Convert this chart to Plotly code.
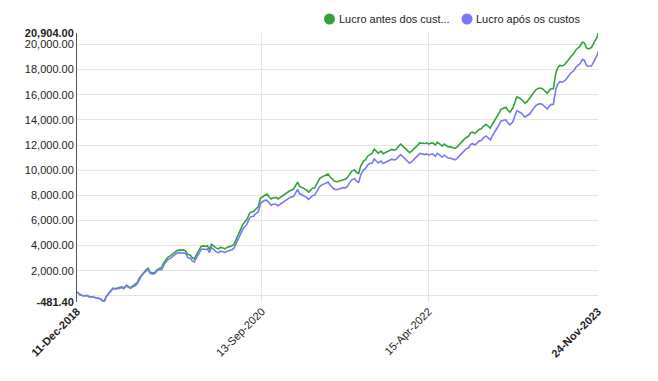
import plotly.graph_objects as go

dates = [
"2018-12-11","2018-12-15","2018-12-22",
"2019-01-01","2019-01-08","2019-01-15","2019-01-22",
"2019-02-01","2019-02-08","2019-02-15","2019-02-22",
"2019-03-01","2019-03-08","2019-03-15","2019-03-22",
"2019-04-01","2019-04-08","2019-04-15","2019-04-22",
"2019-05-01","2019-05-08","2019-05-15","2019-05-22",
"2019-06-01","2019-06-08","2019-06-15","2019-06-22",
"2019-07-01","2019-07-08","2019-07-15","2019-07-22",
"2019-08-01","2019-08-08","2019-08-15","2019-08-22",
"2019-09-01","2019-09-08","2019-09-15","2019-09-22",
"2019-10-01","2019-10-08","2019-10-15","2019-10-22",
"2019-11-01","2019-11-08","2019-11-15","2019-11-22",
"2019-12-01","2019-12-08","2019-12-15","2019-12-22",
"2020-01-01","2020-01-08","2020-01-15","2020-01-22",
"2020-02-01","2020-02-08","2020-02-15","2020-02-22",
"2020-03-01","2020-03-08","2020-03-15","2020-03-22",
"2020-04-01","2020-04-08","2020-04-15","2020-04-22",
"2020-05-01","2020-05-08","2020-05-15","2020-05-22",
"2020-06-01","2020-06-08","2020-06-15","2020-06-22",
"2020-07-01","2020-07-08","2020-07-15","2020-07-22",
"2020-08-01","2020-08-08","2020-08-15","2020-08-22",
"2020-09-01","2020-09-08","2020-09-15","2020-09-22",
"2020-10-01","2020-10-08","2020-10-15","2020-10-22",
"2020-11-01","2020-11-08","2020-11-15","2020-11-22",
"2020-12-01","2020-12-08","2020-12-15","2020-12-22",
"2021-01-01","2021-01-08","2021-01-15","2021-01-22",
"2021-02-01","2021-02-08","2021-02-15","2021-02-22",
"2021-03-01","2021-03-08","2021-03-15","2021-03-22",
"2021-04-01","2021-04-08","2021-04-15","2021-04-22",
"2021-05-01","2021-05-08","2021-05-15","2021-05-22",
"2021-06-01","2021-06-08","2021-06-15","2021-06-22",
"2021-07-01","2021-07-08","2021-07-15","2021-07-22",
"2021-08-01","2021-08-08","2021-08-15","2021-08-22",
"2021-09-01","2021-09-08","2021-09-15","2021-09-22",
"2021-10-01","2021-10-08","2021-10-15","2021-10-22",
"2021-11-01","2021-11-08","2021-11-15","2021-11-22",
"2021-12-01","2021-12-08","2021-12-15","2021-12-22",
"2022-01-01","2022-01-08","2022-01-15","2022-01-22",
"2022-02-01","2022-02-08","2022-02-15","2022-02-22",
"2022-03-01","2022-03-08","2022-03-15","2022-03-22",
"2022-04-01","2022-04-08","2022-04-15","2022-04-22",
"2022-05-01","2022-05-08","2022-05-15","2022-05-22",
"2022-06-01","2022-06-08","2022-06-15","2022-06-22",
"2022-07-01","2022-07-08","2022-07-15","2022-07-22",
"2022-08-01","2022-08-08","2022-08-15","2022-08-22",
"2022-09-01","2022-09-08","2022-09-15","2022-09-22",
"2022-10-01","2022-10-08","2022-10-15","2022-10-22",
"2022-11-01","2022-11-08","2022-11-15","2022-11-22",
"2022-12-01","2022-12-08","2022-12-15","2022-12-22",
"2023-01-01","2023-01-08","2023-01-15","2023-01-22",
"2023-02-01","2023-02-08","2023-02-15","2023-02-22",
"2023-03-01","2023-03-08","2023-03-15","2023-03-22",
"2023-04-01","2023-04-08","2023-04-15","2023-04-22",
"2023-05-01","2023-05-08","2023-05-15","2023-05-22",
"2023-06-01","2023-06-08","2023-06-15","2023-06-22",
"2023-07-01","2023-07-08","2023-07-15","2023-07-22",
"2023-08-01","2023-08-08","2023-08-15","2023-08-22",
"2023-09-01","2023-09-08","2023-09-15","2023-09-22",
"2023-10-01","2023-10-08","2023-10-15","2023-10-22",
"2023-11-01","2023-11-08","2023-11-15","2023-11-22","2023-11-24",
]

lucro_antes = [
310, 220, 100,
20, 60, 40, -60,
-60, -100, -140, -180,
-220, -340, -481.4, -60,
260, 420, 610, 570,
610, 650, 730, 630,
840, 730, 650, 770,
890, 1050, 1420, 1640,
1920, 2080, 2200, 1880,
1820, 1880, 2080, 2160,
2280, 2630, 2870, 3070,
3210, 3350, 3510, 3590,
3640, 3630, 3660, 3590,
3270, 3270, 3030, 2950,
3350, 3660, 3940, 3980,
3940, 3980, 3700, 4100,
3900, 3800, 3740, 3860,
3820, 3740, 3860, 3900,
3980, 4100, 4460, 4850,
5330, 5650, 5880, 6040,
6560, 6700, 6720, 6910,
7110, 7790, 7890, 8020,
8100, 7870, 7710, 7790,
7830, 7710, 7830, 7900,
8100, 8180, 8300, 8380,
8500, 8780, 9050, 8700,
8580, 8500, 8420, 8260,
8380, 8560, 8580, 8900,
9310, 9450, 9530, 9610,
9690, 9450, 9290, 9130,
9080, 9130, 9210, 9250,
9290, 9450, 9730, 9930,
10020, 9810, 9730, 10320,
10720, 10840, 11110, 11230,
11350, 11670, 11510, 11350,
11510, 11310, 11390, 11470,
11590, 11650, 11590, 11630,
11910, 12070, 11910, 11750,
11590, 11390, 11510, 11670,
11750, 11990, 12170, 12150,
12120, 12170, 12070, 12150,
12150, 11990, 12220, 12110,
11910, 12070, 11950, 11850,
11850, 11790, 11730, 11830,
12070, 12260, 12420, 12580,
12700, 12980, 13020, 12910,
13100, 13260, 13290, 13490,
13650, 13490, 13330, 13650,
13970, 14230, 14520, 14840,
14960, 15000, 14760, 14600,
14920, 15320, 15820, 15750,
15670, 15510, 15320, 15430,
15710, 15950, 16190, 16390,
16500, 16530, 16470, 16350,
16110, 16350, 16480, 16470,
17770, 18170, 18330, 18290,
18410, 18610, 18840, 19040,
19280, 19560, 19710, 19830,
20190, 20110, 19710, 19640,
19750, 20050, 20230, 20630, 20904,
]

lucro_apos = [
310, 220, 100,
20, 60, 40, -60,
-60, -100, -140, -180,
-220, -340, -481.4, -60,
240, 400, 590, 550,
560, 600, 680, 580,
790, 680, 600, 720,
810, 970, 1340, 1560,
1840, 2000, 2120, 1800,
1740, 1800, 2000, 2080,
2080, 2430, 2670, 2870,
3010, 3150, 3310, 3390,
3440, 3430, 3460, 3390,
3020, 3020, 2780, 2700,
3100, 3410, 3690, 3730,
3690, 3730, 3450, 3850,
3600, 3500, 3440, 3560,
3520, 3440, 3560, 3600,
3680, 3800, 4160, 4550,
4950, 5270, 5500, 5660,
6180, 6320, 6340, 6530,
6690, 7370, 7470, 7600,
7600, 7370, 7210, 7290,
7290, 7170, 7290, 7360,
7560, 7640, 7760, 7840,
7920, 8200, 8470, 8120,
8000, 7920, 7840, 7680,
7800, 7980, 8000, 8320,
8670, 8810, 8890, 8970,
9050, 8810, 8650, 8490,
8440, 8490, 8570, 8610,
8590, 8750, 9030, 9230,
9320, 9110, 9030, 9620,
10020, 10140, 10410, 10530,
10570, 10890, 10730, 10570,
10730, 10530, 10610, 10690,
10810, 10870, 10810, 10850,
11070, 11230, 11070, 10910,
10750, 10550, 10670, 10830,
10910, 11150, 11330, 11310,
11240, 11290, 11190, 11270,
11270, 11110, 11340, 11230,
11030, 11190, 11070, 10970,
10940, 10880, 10820, 10920,
11160, 11350, 11510, 11670,
11790, 12070, 12110, 12000,
12170, 12330, 12360, 12560,
12720, 12560, 12400, 12720,
13040, 13300, 13590, 13910,
13960, 14000, 13760, 13600,
13820, 14220, 14720, 14650,
14570, 14410, 14220, 14330,
14460, 14700, 14940, 15140,
15250, 15280, 15220, 15100,
14860, 15100, 15230, 15220,
16470, 16870, 17030, 16990,
17110, 17310, 17540, 17740,
17900, 18180, 18330, 18450,
18810, 18730, 18330, 18260,
18280, 18580, 18760, 19160, 19434,
]

series_names = ["Lucro antes dos cust...", "Lucro após os custos"]
series_colors = ["#34a23a", "#7878f8"]

y_min, y_max = -481.4, 20904
y_tickvals = [-481.4, 0, 2000, 4000, 6000, 8000, 10000, 12000, 14000, 16000, 18000, 20000, 20904]
y_ticktext = ["<b>-481.40</b>", "", "2,000.00", "4,000.00", "6,000.00", "8,000.00", "10,000.00",
              "12,000.00", "14,000.00", "16,000.00", "18,000.00", "20,000.00", "<b>20,904.00</b>"]
x_tickvals = ["2018-12-11", "2020-09-13", "2022-04-15", "2023-11-24"]
x_ticktext = ["<b>11-Dec-2018</b>", "13-Sep-2020", "15-Apr-2022", "<b>24-Nov-2023</b>"]

FONT = "Liberation Sans, Arial, sans-serif"
fig = go.Figure()
for name, vals, col in [(series_names[0], lucro_antes, series_colors[0]),
                        (series_names[1], lucro_apos, series_colors[1])]:
    fig.add_trace(go.Scatter(x=dates, y=vals, mode="lines", name=name,
                             line=dict(color=col, width=1.6), showlegend=False))

# page body has an 8px margin, so the figure is sized 650x373 to fill the 658x381 window
fig.update_layout(
    width=650, height=373,
    margin=dict(l=69, r=60, t=25, b=79),
    paper_bgcolor="white", plot_bgcolor="white",
    font=dict(family=FONT, size=11, color="#222"),
    showlegend=False,
    xaxis=dict(type="date", range=["2018-12-11", "2023-11-24"],
               tickvals=x_tickvals, ticktext=x_ticktext, tickangle=-45,
               showgrid=True, gridcolor="#e4e4e4", gridwidth=1,
               showline=False, zeroline=False, ticks="", automargin=False,
               tickfont=dict(size=11, color="#222")),
    yaxis=dict(range=[y_min, y_max], tickvals=y_tickvals, ticktext=y_ticktext,
               showgrid=True, gridcolor="#e4e4e4", gridwidth=1,
               showline=True, linecolor="#555", linewidth=1,
               zeroline=False, ticks="", automargin=False,
               tickfont=dict(size=11, color="#222")),
)

# legend drawn as circles + text
leg_y = 1.052
for cx, tx, name, col in [(0.4846, 0.4985, series_names[0], series_colors[0]),
                          (0.7486, 0.762, series_names[1], series_colors[1])]:
    fig.add_shape(type="circle", xref="paper", yref="paper",
                  xsizemode="pixel", ysizemode="pixel", xanchor=cx, yanchor=leg_y,
                  x0=-5.5, x1=5.5, y0=-5.5, y1=5.5,
                  fillcolor=col, line=dict(width=0))
    fig.add_annotation(xref="paper", yref="paper", x=tx, y=leg_y, text=name,
                       showarrow=False, xanchor="left", yanchor="middle",
                       font=dict(size=11, color="#222", family=FONT))

fig.write_html("out.html", config={"displayModeBar": False})
